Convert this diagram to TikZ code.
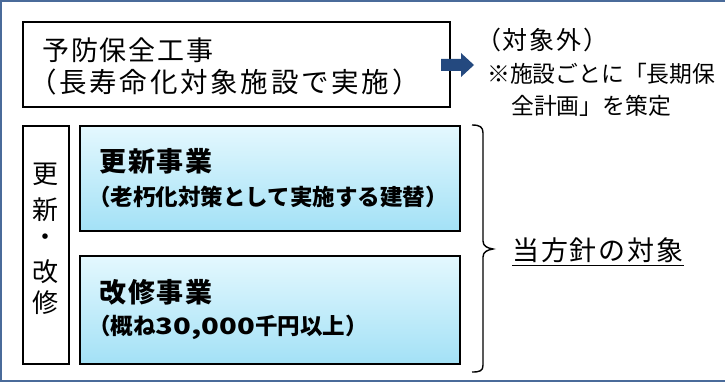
\documentclass[tikz,border=0pt]{standalone}
\usepackage{fontspec}
\setmainfont{Noto Sans CJK JP}
\newfontfamily\wideja[LetterSpace=7]{Noto Sans CJK JP}
\newfontfamily\widerja[LetterSpace=10]{Noto Sans CJK JP}
\usetikzlibrary{positioning}
\definecolor{frameblue}{HTML}{4A6B9A}
\definecolor{arrowblue}{HTML}{24497F}
\definecolor{boxtop}{HTML}{E4F8FE}
\definecolor{boxbot}{HTML}{A3E1F6}
\newcommand\widenum[1]{\scalebox{1.3}[1]{#1}}
\tikzset{
  plainbox/.style={draw=black,line width=1.6pt,fill=white,inner sep=0pt,anchor=north west},
  workbox/.style={draw=black,line width=1.6pt,top color=boxtop,bottom color=boxbot,inner sep=0pt,anchor=north west},
  bigtxt/.style={anchor=west,inner sep=0pt,font=\wideja\fontsize{27pt}{30pt}\selectfont},
  headtxt/.style={anchor=west,inner sep=0pt,font=\wideja\bfseries\fontsize{27pt}{30pt}\selectfont},
  subtxt/.style={anchor=west,inner sep=0pt,font=\bfseries\fontsize{22.5pt}{24pt}\selectfont},
  notetxt/.style={anchor=west,inner sep=0pt,font=\fontsize{22.8pt}{26pt}\selectfont},
}
\begin{document}
\begin{tikzpicture}[x=1pt,y=-1pt]
  \useasboundingbox (0,0) rectangle (725,382);
  \fill[white] (0,0) rectangle (725,382);
  \draw[frameblue,line width=2.5pt] (725,1) -- (1,1) -- (1,381) -- (725,381);
  % boxes
  \node[plainbox,minimum width=427,minimum height=85] (prev) at (22,21) {};
  \node[plainbox,minimum width=46,minimum height=238] (side) at (22,125) {};
  \node[workbox,minimum width=380,minimum height=105] (renew) at (79,125) {};
  \node[workbox,minimum width=380,minimum height=108] (repair) at (79,255) {};
  % texts in the boxes
  \node[bigtxt] (prevA) at (42,50) {予防保全工事};
  \node[bigtxt,font=\widerja\fontsize{27.5pt}{30pt}\selectfont] (prevB) at (29,82) {（長寿命化対象施設で実施）};
  \node[headtxt] (renewA) at (99,161) {更新事業};
  \node[subtxt] (renewB) at (88,197) {（老朽化対策として実施する建替）};
  \node[headtxt] (repairA) at (99,292) {改修事業};
  \node[subtxt] (repairB) at (88,327) {（概ね\widenum{30,000}千円以上）};
  \foreach \ch/\yy [count=\i] in {更/174,新/210,・/240,改/272,修/303}
    \node[font=\fontsize{26pt}{28pt}\selectfont,inner sep=0pt] (side\i) at (45,\yy) {\ch};
  % arrow and note
  \coordinate (arr) at (441,65);
  \fill[arrowblue] (arr) ++(0,-6) -- ++(20,0) -- ++(0,-6) -- ++(13,12) -- ++(-13,12) -- ++(0,-6) -- ++(-20,0) -- cycle;
  \node[notetxt,font=\wideja\fontsize{25pt}{28pt}\selectfont] (outA) at (476,40) {（対象外）};
  \node[notetxt] (outB) at (487,74) {※施設ごとに「長期保};
  \node[notetxt] (outC) at (511,106) {全計画」を策定};
  % brace
  \draw[line width=1.4pt] (472,125) .. controls (480,125) and (483,127) .. (483,133)
    -- (483,241) .. controls (483,246) and (487,248) .. (493,249)
    .. controls (487,250) and (483,252) .. (483,257)
    -- (483,365) .. controls (483,371) and (480,372) .. (472,372);
  \node[bigtxt] (target) at (512,250) {当方針の対象};
  \draw[line width=1.2pt] ([yshift=-5pt]target.base west) -- ([yshift=-5pt]target.base east);
\end{tikzpicture}
\end{document}
